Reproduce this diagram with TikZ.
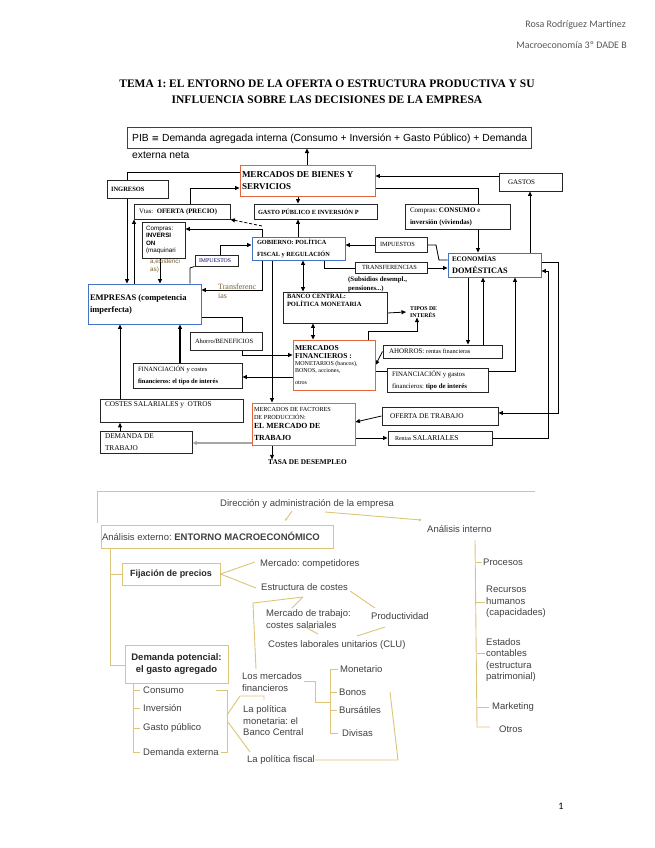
\documentclass[tikz,border=0pt]{standalone}
\usepackage{fontspec}
\setmainfont{Liberation Serif}
\setsansfont{Liberation Sans}
\newfontfamily\hdrfont{Carlito}
\newfontfamily\djfont{DejaVu Sans}
\usetikzlibrary{arrows.meta}
\newcommand\fs[2]{\fontsize{#1}{#2}\selectfont}
\frenchspacing
\pgfdeclarelayer{back}
\pgfdeclarelayer{bg}
\pgfsetlayers{back,bg,main}
\definecolor{orng}{RGB}{228,100,60}
\definecolor{blu}{RGB}{68,114,196}
\definecolor{gld}{RGB}{222,196,120}
\definecolor{txg}{RGB}{64,64,64}
\definecolor{hdrg}{RGB}{89,89,89}
\definecolor{brn}{RGB}{120,95,45}
\tikzset{
 bx/.style={draw=black!85, line width=0.9pt, fill=white, inner sep=2pt, align=flush left},
 obx/.style={bx, draw=orng},
 bbx/.style={bx, draw=blu},
 arr/.style={-{Triangle[length=4.5pt,width=4pt]}, line width=0.8pt},
 arrb/.style={{Triangle[length=4.5pt,width=4pt]}-{Triangle[length=4.5pt,width=4pt]}, line width=0.8pt},
 ln/.style={line width=0.8pt},
 gl/.style={draw=gld, line width=0.9pt},
 bt/.style={font=\sffamily\fs{9.5}{11.5}, text=txg, inner sep=0pt, align=left},
 gbox/.style={draw=gld, line width=0.9pt, fill=white},
}
\newcommand\bb[7]{\node[#1, minimum width=#4pt, minimum height=#5pt, text width=#6pt] (#2) at (#3) {#7};}
\begin{document}
\frenchspacing
\begin{tikzpicture}[x=1pt,y=-1pt]
\useasboundingbox (0,0) rectangle (655,848);
\begin{pgfonlayer}{back}
\fill[white] (0,0) rectangle (655,848);
\end{pgfonlayer}
% header
\node[anchor=east, font=\hdrfont\fs{10}{12}, text=hdrg, inner sep=0pt] (auth) at (626,25) {Rosa Rodríguez Martínez};
\node[anchor=east, font=\hdrfont\fs{10}{12}, text=hdrg, inner sep=0pt] (course) at (627,45) {Macroeconomía 3º DADE B};
\node[font=\bfseries\fs{11.5}{16}, align=center, inner sep=0pt] (title) at (327,92) {TEMA 1: EL ENTORNO DE LA OFERTA O ESTRUCTURA PRODUCTIVA Y SU\\INFLUENCIA SOBRE LAS DECISIONES DE LA EMPRESA};
% top diagram
\node[draw=black!75, line width=1pt, fill=white, minimum width=404pt, minimum height=20pt, inner sep=0pt] (pib) at (329,138) {};
\node[anchor=west, font=\sffamily\fs{10.3}{12}, inner sep=0pt] (pibt) at (132,138.5) {PIB {\djfont\fs{9}{12}≡} Demanda agregada interna (Consumo + Inversión + Gasto Público) + Demanda};
\node[anchor=west, font=\sffamily\fs{10.3}{12}, inner sep=0pt] (pibt2) at (132,155) {externa neta};
\bb{obx}{mbs}{307.5,180.5}{135}{31}{131}{\bfseries\fs{9}{11}MERCADOS DE BIENES Y\\SERVICIOS}
\bb{bx}{ingresos}{137.5,189}{61}{18}{57}{\bfseries\fs{6.5}{8}\hspace*{2pt}INGRESOS}
\bb{bx}{gastos}{530.5,182}{63}{18}{59}{\fs{7}{8}\hspace*{7pt}GASTOS}
\bb{bx}{vtas}{182,211.5}{96}{15}{92}{\fs{6.8}{8}\hspace*{3pt}Vtas:\ \ \textbf{OFERTA (PRECIO)}}
\bb{bx}{gpi}{315.5,211.5}{123}{15}{119}{\bfseries\fs{6.3}{8}\hspace*{2pt}GASTO PÚBLICO E INVERSIÓN P}
\bb{bx}{ccons}{457.5,216.5}{105}{25}{101}{\fs{7}{9}\hspace*{3pt}Compras: \textbf{CONSUMO} e\\\hspace*{3pt}\textbf{inversión (viviendas)}}
\node[bx, inner xsep=4pt, minimum width=43pt, minimum height=36pt, text width=35pt, font=\sffamily\fs{6.3}{7.5}] (cinv) at (163.5,240) {Compras:\\\textbf{INVERSI}\\\textbf{ON}\\(maquinari};
\node[anchor=north west, font=\sffamily\fs{6.3}{7.5}, text=brn, inner sep=0pt, align=left] (cinvx) at (150,259) {a,existenci\\as)};
\bb{bbx}{gob}{298.5,248.5}{93}{23}{89}{\bfseries\fs{6.3}{7.8}\hspace*{3pt}GOBIERNO: POLÍTICA\\\hspace*{3pt}FISCAL y REGULACIÓN}
\bb{bx}{imp2}{401,244.5}{52}{15}{48}{\fs{6.3}{7.5}\hspace*{3pt}IMPUESTOS}
\bb{bbx}{eco}{494.5,265}{93}{24}{89}{\hspace*{2pt}\bfseries\fs{7}{8.5}ECONOMÍAS\\\hspace*{2pt}\fs{8.3}{9}DOMÉSTICAS}
\bb{bx}{transf}{391,267.5}{72}{11}{68}{\fs{6.3}{7}\hspace*{5pt}TRANSFERENCIAS}
\node[anchor=north west, font=\bfseries\fs{6.8}{8.5}, inner sep=0pt, align=left] (subs) at (348,277) {(Subsidios desempl.,\\pensiones...)};
\bb{bx}{imp1}{216.5,260.5}{43}{11}{39}{\fs{5.8}{7}\color{blue!40!black}\hspace*{2pt}IMPUESTOS}
\bb{bbx}{empresas}{144.5,304}{113}{40}{109}{\bfseries\fs{8.5}{11}EMPRESAS (competencia\\imperfecta)}
\bb{bx}{bc}{335,307.5}{104}{31}{100}{\bfseries\fs{6.5}{8.5}\hspace*{2pt}BANCO CENTRAL:\\\hspace*{2pt}POLÍTICA MONETARIA\\[2pt]\mbox{}}
\node[anchor=west, font=\bfseries\fs{5.8}{7}, inner sep=0pt, align=left] (tipos) at (410,312) {TIPOS DE\\INTERÉS};
\bb{bx}{ahben}{226,341}{72}{18}{68}{\fs{6.5}{8}\hspace*{3pt}Ahorro/BENEFICIOS}
\bb{obx}{mf}{334,365}{82}{50}{78}{\bfseries\fs{7.5}{8.5}MERCADOS\\FINANCIEROS :\par\fs{6}{7}\mdseries MONETARIOS (bancos),\\BONOS, acciones,\\otros}
\bb{bx}{ahorros}{442.5,351.5}{119}{13}{115}{\fs{7}{8}\hspace*{4pt}AHORROS: {\fs{6.3}{8}rentas financieras}}
\bb{bx}{fin2}{437.5,380}{101}{24}{97}{\fs{6.8}{8.5}\hspace*{3pt}FINANCIACIÓN y gastos\\\hspace*{3pt}financieros: \textbf{tipo de interés}}
\bb{bx}{fin1}{187.5,375.5}{109}{25}{105}{\fs{6.5}{8.5}\hspace*{3pt}FINANCIACIÓN y costes\\\hspace*{3pt}\textbf{financieros: el tipo de interés}}
\bb{bx}{costes}{171.5,411}{143}{22}{139}{\fs{7.3}{8}\hspace*{3pt}COSTES SALARIALES y\ \ OTROS\\[2pt]\mbox{}}
\bb{bx}{demtr}{146,442}{92}{22}{88}{\fs{7.3}{8.5}\hspace*{3pt}DEMANDA DE\\\hspace*{3pt}TRABAJO}
\bb{obx}{mfac}{303.5,424}{103}{42}{99}{\fs{6.2}{7.5}MERCADOS DE FACTORES\\DE PRODUCCIÓN:\par\bfseries\fs{7.8}{9}EL MERCADO DE\\TRABAJO}
\bb{bx}{ofer}{440,416}{116}{18}{112}{\fs{7.3}{8.5}\hspace*{6pt}OFERTA DE TRABAJO}
\bb{bx}{rentas}{440,438}{104}{14}{100}{\hspace*{5pt}\fs{6}{8}Rentas \fs{7.5}{8}SALARIALES}
\node[anchor=west, font=\bfseries\fs{7.3}{8}, inner sep=0pt] (tasa) at (268,462) {TASA DE DESEMPLEO};
\node[anchor=north west, font=\fs{8}{9}, text=brn, inner sep=0pt, align=left] (transfx) at (218,284) {Transferenc\\ias};
% bottom diagram
\node[bt] (dir) at (307,504) {Dirección y administración de la empresa};
\node[gbox, minimum width=232pt, minimum height=23pt, text width=230pt, inner sep=1pt, align=flush left, font=\sffamily\fs{9.5}{11}, text=txg] (ent) at (217,536.5) {Análisis externo: \textbf{ENTORNO MACROECONÓMICO}};
\node[bt, anchor=west] (ai) at (427,529) {Análisis interno};
\node[gbox, minimum width=98pt, minimum height=22pt, inner sep=1pt, font=\sffamily\bfseries\fs{9}{11}, text=black!85] (fij) at (171,574) {Fijación de precios};
\node[bt, anchor=west] (mc) at (260,564) {Mercado: competidores};
\node[bt, anchor=west] (ec) at (261,587) {Estructura de costes};
\node[bt, anchor=west] (mt) at (266,619) {Mercado de trabajo:\\costes salariales};
\node[bt, anchor=west] (prod) at (371,616) {Productividad};
\node[bt, anchor=west] (clu) at (268,645) {Costes laborales unitarios (CLU)};
\node[gbox, minimum width=103pt, minimum height=38pt, inner sep=1pt, align=center, font=\sffamily\bfseries\fs{9.5}{12}, text=black!85] (dp) at (176.5,664) {Demanda potencial:\\el gasto agregado};
\node[bt, anchor=west] (cons) at (143,690) {Consumo};
\node[bt, anchor=west] (inv) at (143,708) {Inversión};
\node[bt, anchor=west] (gp) at (143,728) {Gasto público};
\node[bt, anchor=west] (dext) at (143,752) {Demanda externa};
\node[bt, anchor=west] (lmf) at (242,682) {Los mercados\\financieros};
\node[bt, anchor=west] (lpm) at (243,721) {La política\\monetaria: el\\Banco Central};
\node[bt, anchor=west] (lpf) at (247,760) {La política fiscal};
\node[bt, anchor=west] (mon) at (340,669) {Monetario};
\node[bt, anchor=west] (bon) at (339,692) {Bonos};
\node[bt, anchor=west] (bur) at (339,710) {Bursátiles};
\node[bt, anchor=west] (div) at (342,733) {Divisas};
\node[bt, anchor=west] (proc) at (483,562) {Procesos};
\node[bt, anchor=west] (rh) at (486,602) {Recursos\\humanos\\(capacidades)};
\node[bt, anchor=west] (est) at (486,660) {Estados\\contables\\(estructura\\patrimonial)};
\node[bt, anchor=west] (mkt) at (492,707) {Marketing};
\node[bt, anchor=west] (otr) at (499,729) {Otros};
\node[font=\hdrfont\fs{10}{12}, inner sep=0pt] (pg) at (561,806) {1};
% connectors
\begin{pgfonlayer}{bg}
\draw[arr] (mbs.north -| 307,0) -- (pib.south -| 307,0);
\draw[arr] (gastos.west |- 0,176) -- (mbs.east |- 0,176);
\draw[arr] (mbs.west |- 0,172) -- (127,172) -- (empresas.north -| 127,0);
\draw[arr] (vtas.north -| 190,0) -- (190,188) -- (mbs.west |- 0,188);
\draw[arr] (empresas.north -| 134,0) -- (vtas.south -| 134,0);
\draw[arr] (cinv.south -| 160,0) -- (empresas.north -| 160,0);
\draw[arr] (mbs.south -| 298,0) -- (gpi.north -| 298,0);
\draw[arr] (gob.north -| 298,0) -- (gpi.south -| 298,0);
\draw[arr] (gob.north -| 262,0) -- (262,229) -- (cinv.east |- 0,229);
\draw[arr, dash pattern=on 3pt off 2pt] (262,226) -- (vtas.south east);
\draw[ln] (mbs.east |- 0,188) -- (478,188) -- (ccons.north -| 478,0);
\draw[arr] (ccons.south -| 478,0) -- (eco.north -| 478,0);
\draw[ln] (eco.west |- 0,260) -- (439,260) -- (436,245) -- (imp2.east |- 0,245);
\draw[arr] (imp2.west |- 0,245) -- (gob.east |- 0,245);
\draw[ln] (gob.south -| 324,0) -- (324,268) -- (transf.west |- 0,268);
\draw[arr] (transf.east |- 0,268) -- (eco.west |- 0,268);
\draw[ln] (empresas.north -| 190,0) -- (190,268) -- (imp1.south west);
\draw[arr] (imp1.north -| 220,0) -- (220,245) -- (gob.west |- 0,245);
\draw[arr] (gob.south -| 262,0) -- (262,290) -- (empresas.east |- 0,290);
\draw[arr] (gob.south -| 272,0) -- (mfac.north -| 272,0);
\draw[arrb] (gob.south -| 303,0) -- (bc.north -| 303,0);
\draw[arrb] (bc.south -| 313,0) -- (mf.north -| 313,0);
\draw[arr] (bc.east |- 0,313) -- (tipos.west -| 406,0);
\draw[arr] (mf.north -| 368,0) -- (368,331) -- (417,331) -- (tipos.south -| 417,0);
\draw[arr] (empresas.east |- 0,317) -- (242,317) -- (242,355) -- (mf.west |- 0,355);
\draw[arr] (mf.west |- 0,377) -- (fin1.east |- 0,377);
\draw[arr, line width=1.8pt] (fin1.north -| 180,0) -- (empresas.south -| 180,0);
\draw[arr] (costes.north -| 120,0) -- (empresas.south -| 120,0);
\draw[arr] (demtr.north -| 120,0) -- (costes.south -| 120,0);
\draw[arr, draw=gray!70, line width=1.6pt] (mfac.west |- 0,443) -- (demtr.east |- 0,443);
\draw[arr] (mfac.south -| 272,0) -- (tasa.north -| 272,0);
\draw[arr] (ofer.west) -- (mfac.east |- 0,422);
\draw[arr] (mfac.east |- 0,438) -- (rentas.west);
\draw[arr] (eco.south -| 468,0) -- (ahorros.north -| 468,0);
\draw[arr] (ahorros.north -| 483,0) -- (eco.south -| 483,0);
\draw[ln] (mf.east |- 0,371) -- (fin2.west |- 0,371);
\draw[arr] (fin2.east |- 0,371) -- (515,371) -- (eco.south -| 515,0);
\draw[arr] (ahorros.west) -- (mf.east);
\draw[arr] (eco.north -| 530,0) -- (gastos.south -| 530,0);
\draw[arr] (eco.east |- 0,262) -- (558,262) -- (558,413) -- (ofer.east |- 0,413);
\draw[arr] (rentas.east) -- (548,438) -- (548,271) -- (eco.east |- 0,271);
% bottom lines
\draw[gl] (97,523) -- (97,491) -- (535,491);
\draw[gl, -{Stealth[length=3pt]}] (292,511) -- (285,521);
\draw[gl, -{Circle[length=2.5pt]}] (325,512) -- (421,520);
\draw[gl] (ent.south -| 110,0) -- (110,665) -- (dp.west |- 0,665);
\draw[gl] (110,574) -- (fij.west);
\draw[gl] (fij.east) -- (255,562);
\draw[gl] (fij.east) -- (256,588);
\draw[gl] (303,597) -- (253,603) -- (256,669);
\draw[gl] (303,597) -- (292,608);
\draw[gl] (350,591) -- (375,608);
\draw[gl] (307,628) -- (318,634);
\draw[gl] (357,636) -- (385,627);
\draw[gl] (dp.south -| 133,0) -- (133,752) -- (140,752);
\draw[gl] (133,690) -- (140,690) (133,708) -- (140,708) (133,728) -- (140,728);
\draw[gl] (216,690) -- (227,690) -- (227,752) -- (221,752);
\draw[gl] (227,715) -- (240,696) -- (264,696) -- (264,700);
\draw[gl] (228,722) -- (250,752);
\draw[gl] (304,681) -- (315,681) -- (315,702) -- (330,702);
\draw[gl] (338,669) -- (330,669) -- (330,733) -- (338,733);
\draw[gl] (330,692) -- (337,692) (330,710) -- (337,710);
\draw[gl] (lpf.east) -- (398,760) -- (390,692);
\draw[gl] (475,540) -- (477,727) -- (490,727);
\draw[gl] (476,562) -- (482,562) (476,602) -- (485,602) (477,653) -- (485,653) (477,707) -- (489,707);
\end{pgfonlayer}
\end{tikzpicture}
\end{document}
